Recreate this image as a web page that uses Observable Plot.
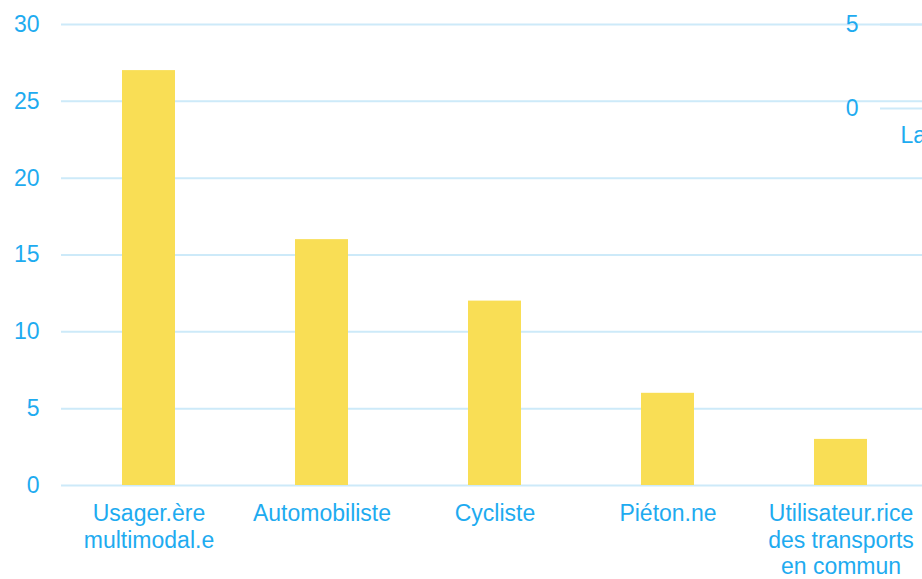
<!DOCTYPE html>
<html>
<head>
<meta charset="utf-8">
<script src="https://cdn.jsdelivr.net/npm/d3@7"></script>
<script src="https://cdn.jsdelivr.net/npm/@observablehq/plot@0.6"></script>
<style>
  html, body { margin: 0; padding: 0; background: #ffffff; overflow: hidden; width: 922px; height: 579px; }
  #wrap { position: relative; width: 922px; height: 579px; overflow: hidden; }
  #main { position: absolute; left: 0; top: 0; width: 928px; }
  #inset { position: absolute; left: 820px; top: 0; width: 160px; }
  svg { max-width: none !important; }
</style>
</head>
<body>
<div id="wrap"><div id="main"></div><div id="inset"></div></div>
<script>
const categories = ["Usager.ère\nmultimodal.e", "Automobiliste", "Cycliste", "Piéton.ne", "Utilisateur.rice\ndes transports\nen commun"];
const values = [27, 16, 12, 6, 3];
const yTicks = [0, 5, 10, 15, 20, 25, 30];

const insetTicks = [0, 5];
const insetCategories = ["La"];

const blue = "#1eabf0";
const grid = "#cdeaf9";
const barColor = "#f9de55";
const font = "'Liberation Sans', Arial, sans-serif";

const data = categories.map((c, i) => ({category: c, value: values[i]}));

const chart = Plot.plot({
  width: 928,
  height: 579,
  marginTop: 24,
  marginBottom: 94,
  marginLeft: 61,
  marginRight: 0,
  style: {fontFamily: font, background: "transparent", overflow: "visible", maxWidth: "none"},
  x: {domain: categories, padding: 0, label: null},
  y: {domain: [0, 30], label: null},
  marks: [
    Plot.ruleY(yTicks, {stroke: grid, strokeWidth: 2}),
    Plot.barY(data, {x: "category", y: "value", fill: barColor, insetLeft: 60, insetRight: 60}),
    Plot.axisY({ticks: yTicks, tickSize: 0, tickPadding: 22, fontSize: 23, fill: blue, label: null}),
    Plot.axisX({tickSize: 0, tickPadding: 17, fontSize: 23, fill: blue, lineHeight: 1.15, label: null})
  ]
});
document.getElementById("main").append(chart);

const inset = Plot.plot({
  width: 160,
  height: 160,
  marginTop: 24,
  marginBottom: 52,
  marginLeft: 60,
  marginRight: 0,
  style: {fontFamily: font, background: "transparent", overflow: "visible", maxWidth: "none"},
  x: {domain: insetCategories, padding: 0, label: null},
  y: {domain: [0, 5], label: null},
  marks: [
    Plot.ruleY(insetTicks, {stroke: grid, strokeWidth: 2}),
    Plot.axisY({ticks: insetTicks, tickFormat: d3.format("d"), tickSize: 0, tickPadding: 22, fontSize: 23, fill: blue, label: null}),
    Plot.axisX({tickSize: 0, tickPadding: 18, fontSize: 23, fill: blue, textAnchor: "start", dx: -30, label: null})
  ]
});
document.getElementById("inset").append(inset);
</script>
</body>
</html>
